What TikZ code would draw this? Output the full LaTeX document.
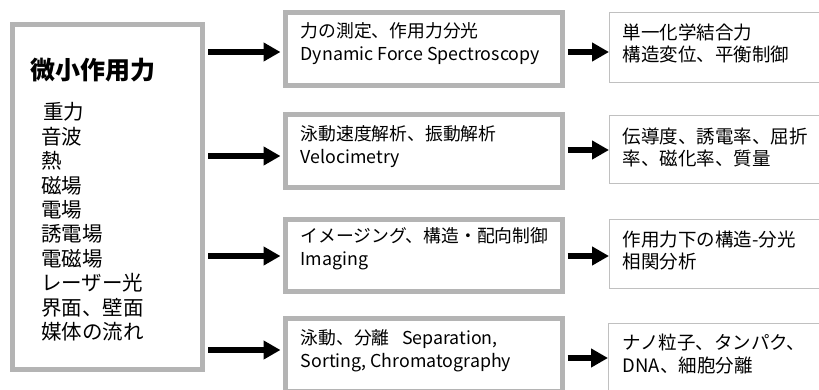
\documentclass[tikz,border=0pt]{standalone}
\usepackage{fontspec}
\setmainfont{Noto Sans CJK JP}
\newfontfamily\cjk{Noto Sans CJK JP}
\usetikzlibrary{arrows.meta}
\definecolor{boxgray}{RGB}{180,180,180}
\definecolor{thingray}{RGB}{192,192,192}
\begin{document}
\begin{tikzpicture}[x=1pt,y=-1pt,
  thickbox/.style={draw=boxgray, line width=5pt, fill=white, inner sep=0pt},
  thinbox/.style={draw=thingray, line width=1pt, fill=white, inner sep=0pt},
  bigarrow/.style={line width=6pt, -{Triangle[length=17pt,width=18pt]}},
  midtxt/.style={anchor=west, inner sep=0pt, align=left, font=\cjk\fontsize{17.8}{23}\selectfont},
  righttxt/.style={anchor=west, inner sep=0pt, align=left, font=\cjk\fontsize{18.5}{22.5}\selectfont}]
\useasboundingbox (0,0) rectangle (819,389);
\clip (0,0) rectangle (819,389);
\fill[white] (0,0) rectangle (819,389);

% left box
\node[thickbox, minimum width=190pt, minimum height=345pt] (L) at (107.5,197) {};
\node[anchor=west, inner sep=0pt, font=\cjk\bfseries\fontsize{25}{30}\selectfont] (Ltitle) at (30,70) {微小作用力};
\node[anchor=west, inner sep=0pt, align=left, font=\cjk\fontsize{20.5}{24.4}\selectfont] (Llist) at (41,222)
 {\hspace{2pt}重力\\音波\\熱\\磁場\\電場\\誘電場\\電磁場\\レーザー光\\界面、壁面\\媒体の流れ};

% middle boxes
\node[thickbox, minimum width=277pt, minimum height=73pt] (M1) at (424,49) {};
\node[thickbox, minimum width=277pt, minimum height=73pt] (M2) at (424,151) {};
\node[thickbox, minimum width=277pt, minimum height=72pt] (M3) at (424,255.5) {};
\node[thickbox, minimum width=277pt, minimum height=73pt] (M4) at (424,355) {};

\node[midtxt] (M1t) at ([xshift=17.5pt,yshift=-33.5pt]M1.north west) {力の測定、作用力分光\\Dynamic Force Spectroscopy};
\node[midtxt] (M2t) at ([xshift=17.5pt,yshift=-35pt]M2.north west) {泳動速度解析、振動解析\\Velocimetry};
\node[midtxt] (M3t) at ([xshift=17.5pt,yshift=-32pt]M3.north west) {イメージング、構造・配向制御\\Imaging};
\node[midtxt] (M4t) at ([xshift=17.5pt,yshift=-34.5pt]M4.north west) {泳動、分離\hspace{0.7em}Separation,\\Sorting, Chromatography};

% right boxes
\node[thinbox, minimum width=220pt, minimum height=70pt] (R1) at (719.5,47.5) {};
\node[thinbox, minimum width=220pt, minimum height=68pt] (R2) at (719.5,149) {};
\node[thinbox, minimum width=220pt, minimum height=69pt] (R3) at (719.5,253.5) {};
\node[thinbox, minimum width=220pt, minimum height=69pt] (R4) at (718.5,357.5) {};

\node[righttxt] (R1t) at ([xshift=13.5pt,yshift=-31.5pt]R1.north west) {単一化学結合力\\構造変位、平衡制御};
\node[righttxt] (R2t) at ([xshift=13.5pt,yshift=-33pt]R2.north west) {伝導度、誘電率、屈折\\率、磁化率、質量};
\node[righttxt] (R3t) at ([xshift=13.5pt,yshift=-32pt]R3.north west) {作用力下の構造-分光\\相関分析};
\node[righttxt] (R4t) at ([xshift=14.5pt,yshift=-31.5pt]R4.north west) {ナノ粒子、タンパク、\\DNA、細胞分離};

% left arrows
\path ([yshift=-3pt]M1.west) coordinate (a1)
      ([yshift=-5pt]M2.west) coordinate (a2)
      ([yshift=-0.5pt]M3.west) coordinate (a3)
      ([yshift=5pt]M4.west) coordinate (a4);
\foreach \i in {1,2,3,4}{
  \draw[bigarrow, shorten <=3pt, shorten >=2.5pt] (L.east |- a\i) -- (a\i);
}
% right arrows
\path ([yshift=-3pt]M1.east) coordinate (b1)
      ([yshift=1pt]M2.east) coordinate (b2)
      ([yshift=-0.5pt]M3.east) coordinate (b3)
      ([yshift=-3pt]M4.east) coordinate (b4);
\draw[bigarrow, shorten <=2.5pt] (b1) -- (R1.west |- b1);
\draw[bigarrow, shorten <=2.5pt] (b2) -- (R2.west |- b2);
\draw[bigarrow, shorten <=2.5pt] (b3) -- (R3.west |- b3);
\draw[bigarrow, shorten <=2.5pt] (b4) -- (R4.west |- b4);
\end{tikzpicture}
\end{document}
